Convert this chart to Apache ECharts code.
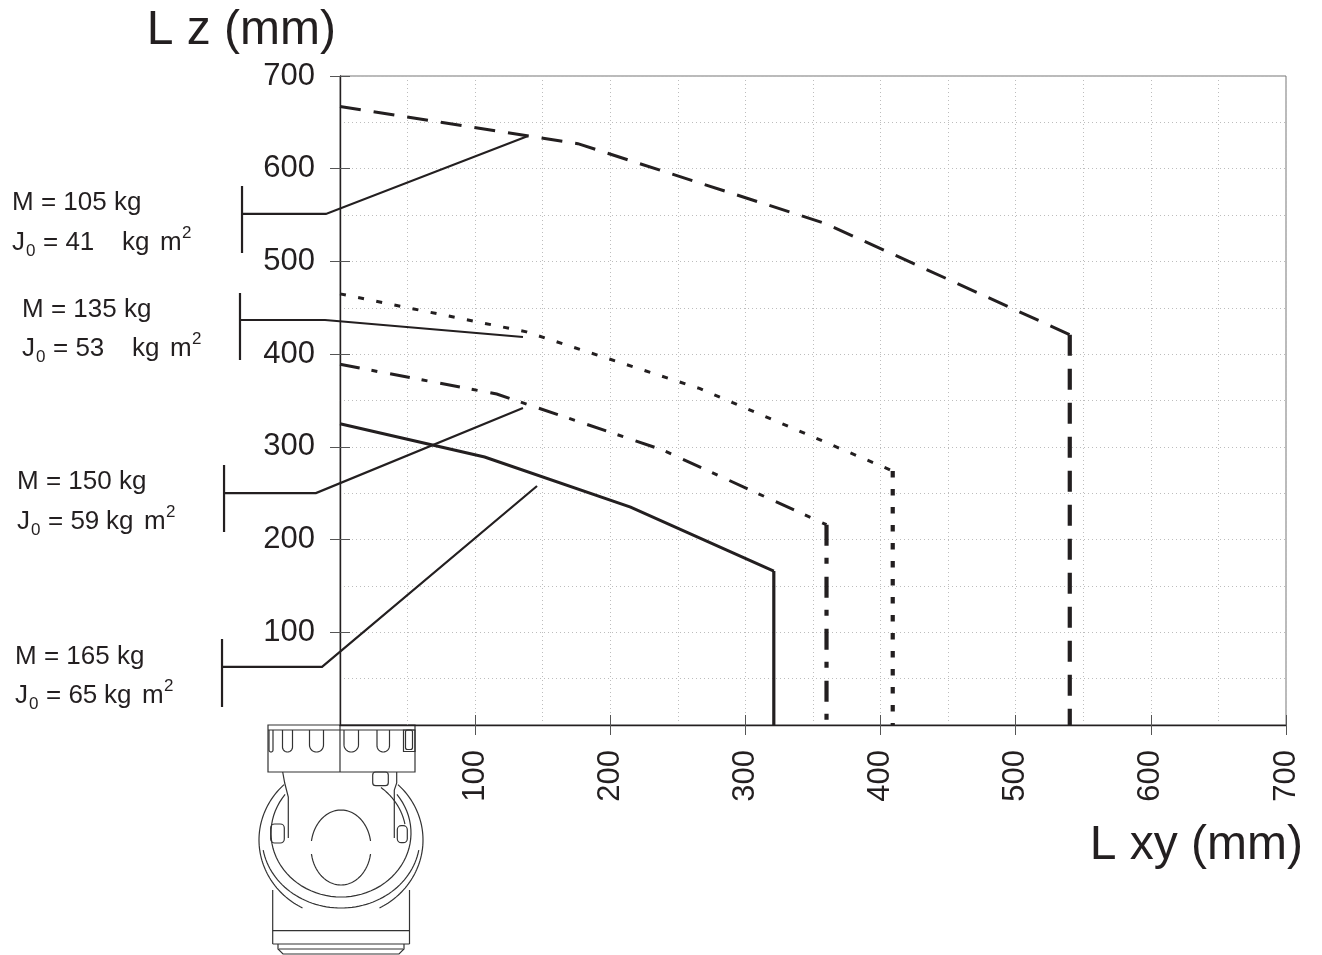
<!DOCTYPE html>
<html>
<head>
<meta charset="utf-8">
<style>html,body{margin:0;padding:0;background:#fff}#c{width:1322px;height:955px}</style>
<script src="https://cdn.jsdelivr.net/npm/echarts@6/dist/echarts.min.js"></script>
</head>
<body>
<div id="c"></div>
<script>
// Tick labels
const xTicks = [100, 200, 300, 400, 500, 600, 700];
const yTicks = [100, 200, 300, 400, 500, 600, 700];

// Envelope curves
const m105Xy = [0, 176, 359, 540];
const m105Z  = [667, 627, 541, 421];
const m135Xy = [0, 138, 266, 409];
const m135Z  = [465, 424, 363, 274];
const m150Xy = [0, 116, 238, 360];
const m150Z  = [389, 357, 297, 216];
const m165Xy = [0, 107, 215, 321];
const m165Z  = [325, 289, 235, 166];

// Leader lines from each curve to its label
const lead105Xy = [-72.5, -72.5, -72.5, -10.4, 139.1];
const lead105Z  = [581.4, 509.1, 551.2, 551.2, 635.3];
const lead135Xy = [-74, -74, -74, -11.1, 135.4];
const lead135Z  = [466, 393.7, 436.8, 436.8, 418.5];
const lead150Xy = [-85.8, -85.8, -85.8, -17.8, 135.4];
const lead150Z  = [280.4, 208.2, 250.2, 250.2, 341.9];
const lead165Xy = [-87.3, -87.3, -87.3, -13.3, 145.8];
const lead165Z  = [92.8, 19.4, 62.6, 62.6, 257.8];

const INK = '#231f20';
const FONT = '"Liberation Sans", Arial, sans-serif';
const pairs = (xs, ys) => xs.map((x, i) => [x, ys[i]]);

function curve(name, xs, ys, dash, wallDash) {
  const last = xs.length - 1;
  return [
    { name, type: 'line', data: pairs(xs, ys), symbol: 'none', silent: true, z: 5,
      lineStyle: { color: INK, width: 3, type: dash, cap: 'butt', join: 'miter' } },
    { name: name + ' limit', type: 'line', data: [[xs[last], ys[last]], [xs[last], 0]], symbol: 'none', silent: true, z: 5,
      lineStyle: { color: INK, width: 4.2, type: wallDash, cap: 'butt' } }
  ];
}
// Leaders run outside the plot area, so they are drawn by a custom series through the axis scales
function leader(name, xs, ys) {
  const pts = pairs(xs, ys);
  return { name, type: 'custom', coordinateSystem: 'cartesian2d', data: pts, silent: true, z: 4, clip: false,
    encode: { x: 0, y: 1 },
    renderItem(params, api) {
      if (params.dataIndex !== 0) return null;
      return { type: 'polyline', shape: { points: pts.map(p => api.coord(p)) },
        style: { stroke: INK, lineWidth: 2.2, fill: null, lineJoin: 'miter' } };
    } };
}

// Labels
function txt(text, x, y, size) {
  return { type: 'text', x, y, silent: true,
    style: { text, font: size + 'px ' + FONT, fill: INK, textAlign: 'left', textVerticalAlign: 'middle', verticalAlign: 'middle' } };
}
function label(mText, jVal, unitX, x, y1, y2) {
  return [
    txt(mText, x, y1, 26),
    txt('J', x, y2, 26),
    txt('0', x + 14, y2 + 8, 17),
    txt('= ' + jVal, x + 31, y2, 26),
    txt('kg', unitX, y2, 26),
    txt('m', unitX + 38, y2, 26),
    txt('2', unitX + 60, y2 - 10, 17)
  ];
}

// Robot flange sketch (decoration)
const sk = { stroke: '#333', lineWidth: 1.2, fill: null };
function pl(points) { return { type: 'polyline', silent: true, shape: { points }, style: sk }; }
function ell(cx, cy, rx, ry, a0, a1) {
  const pts = [], n = 60;
  for (let i = 0; i <= n; i++) {
    const a = (a0 + (a1 - a0) * i / n) * Math.PI / 180;
    pts.push([cx + rx * Math.cos(a), cy + ry * Math.sin(a)]);
  }
  return pl(pts);
}
function slot(x0, x1, yTop, yBot) {
  const r = (x1 - x0) / 2, pts = [[x0, yTop], [x0, yBot - r]];
  for (let i = 1; i < 20; i++) {
    const a = Math.PI - Math.PI * i / 20;
    pts.push([x0 + r + r * Math.cos(a), yBot - r + r * Math.sin(a)]);
  }
  pts.push([x1, yBot - r], [x1, yTop]);
  return pl(pts);
}
function box(x, y, width, height, r) {
  return { type: 'rect', silent: true, shape: { x, y, width, height, r: r || 0 }, style: sk };
}
const robot = [
  box(268, 725, 147, 47),
  pl([[268, 730], [415, 730]]),
  slot(269, 273, 730, 752), slot(282.5, 292.5, 730, 752), slot(309.5, 323.5, 730, 752),
  slot(344, 358.5, 730, 752), slot(377, 389.5, 730, 752),
  box(403.5, 730, 11.5, 21.5), box(405.5, 730, 7, 19.5, 2),
  pl([[340, 725], [340, 772]]),
  pl([[282.7, 772], [284.7, 783], [288.3, 797], [288.3, 838]]),
  pl([[396.7, 772], [396.7, 783], [394.3, 790], [394.3, 838]]),
  box(372.7, 772, 15.6, 13.7, 3),
  ell(341, 840, 82, 77, 226, 118),
  ell(341, 840, 82, 77, -46, 62),
  ell(341, 838, 79, 70, 170, 10),
  ell(341, 833, 70, 64, 217, -37),
  ell(336, 835, 70, 62, -50, -10),
  ell(341, 847.5, 30, 37.5, 190, 350),
  ell(341, 847.5, 30, 37.5, 170, 10),
  box(270.7, 824, 13.6, 19, 4),
  box(397.3, 825.7, 10, 17, 4),
  pl([[272.7, 890], [272.7, 944]]),
  pl([[409.5, 890], [409.5, 944]]),
  pl([[272.7, 930.7], [409.5, 930.7]]),
  pl([[272.7, 944], [409.5, 944]]),
  pl([[278, 944], [278, 949], [283, 954], [399, 954], [404, 949], [404, 944]]),
  pl([[279, 949], [403, 949]])
];

const gridDots = { color: '#bdbdbd', width: 1, type: [1, 3] };
const baseAxis = (ticks, extra) => Object.assign({
  type: 'value', min: 0, max: 700, interval: 100, minorTick: { show: false, splitNumber: 2 },
  splitLine: { show: true, lineStyle: gridDots },
  minorSplitLine: { show: true, lineStyle: gridDots },
  axisLine: { show: true, onZero: false, lineStyle: { color: INK, width: 1.4 } },
  axisTick: { show: true, inside: false, length: 10, customValues: ticks, lineStyle: { color: '#555', width: 1 } },
  axisLabel: { show: true, customValues: ticks, color: INK, fontFamily: FONT, fontSize: 31 }
}, extra);
const innerTicks = (ticks, extra) => Object.assign({
  type: 'value', min: 0, max: 700, interval: 100,
  splitLine: { show: false }, axisLine: { show: false }, axisLabel: { show: false },
  axisTick: { show: true, inside: true, length: 10, customValues: ticks, lineStyle: { color: '#555', width: 1 } }
}, extra);

const option = {
  animation: false,
  backgroundColor: '#fff',
  grid: { left: 340, right: 36, top: 76, bottom: 230, show: true, borderColor: '#777', borderWidth: 1, containLabel: false },
  xAxis: [
    baseAxis(xTicks, {
      position: 'bottom',
      name: 'L xy (mm)', nameLocation: 'end', nameGap: 17, nameMoveOverlap: false,
      nameTextStyle: { fontFamily: FONT, fontSize: 48, color: INK, align: 'right', verticalAlign: 'top', padding: [97, 0, 0, 0] },
      axisLabel: { show: true, customValues: xTicks, rotate: 90, margin: 25, color: INK, fontFamily: FONT, fontSize: 31, padding: [0, 0, 3, 0] }
    }),
    innerTicks(xTicks, { position: 'bottom' })
  ],
  yAxis: [
    baseAxis(yTicks, {
      position: 'left',
      name: 'L z (mm)', nameLocation: 'end', nameGap: 21, nameMoveOverlap: false,
      nameTextStyle: { fontFamily: FONT, fontSize: 48, color: INK, align: 'right', verticalAlign: 'bottom', padding: [0, 4, 0, 0] },
      axisLabel: { show: true, customValues: yTicks, margin: 25, color: INK, fontFamily: FONT, fontSize: 31, padding: [4, 0, 0, 0] }
    }),
    innerTicks(yTicks, { position: 'left' })
  ],
  series: [
    ...curve('M = 105 kg', m105Xy, m105Z, [21, 13], [21, 13]),
    ...curve('M = 135 kg', m135Xy, m135Z, [6, 12.5], [6.5, 11.5]),
    ...curve('M = 150 kg', m150Xy, m150Z, [20, 12, 6, 13], [21, 12, 6, 13]),
    { name: 'M = 165 kg', type: 'line', data: pairs(m165Xy, m165Z), symbol: 'none', silent: true, z: 5,
      lineStyle: { color: INK, width: 3, join: 'miter' } },
    { name: 'M = 165 kg limit', type: 'line', data: [[321, 166], [321, 0]], symbol: 'none', silent: true, z: 5,
      lineStyle: { color: INK, width: 3.2 } },
    leader('Leader 105', lead105Xy, lead105Z),
    leader('Leader 135', lead135Xy, lead135Z),
    leader('Leader 150', lead150Xy, lead150Z),
    leader('Leader 165', lead165Xy, lead165Z)
  ],
  graphic: { elements: [
    ...robot,
    ...label('M = 105 kg', '41', 122, 12, 203, 243),
    ...label('M = 135 kg', '53', 132, 22, 310, 349),
    ...label('M = 150 kg', '59', 106, 17, 482, 522),
    ...label('M = 165 kg', '65', 104, 15, 657, 696)
  ] }
};
echarts.init(document.getElementById('c'), null, { renderer: 'canvas' }).setOption(option);
</script>
</body>
</html>
